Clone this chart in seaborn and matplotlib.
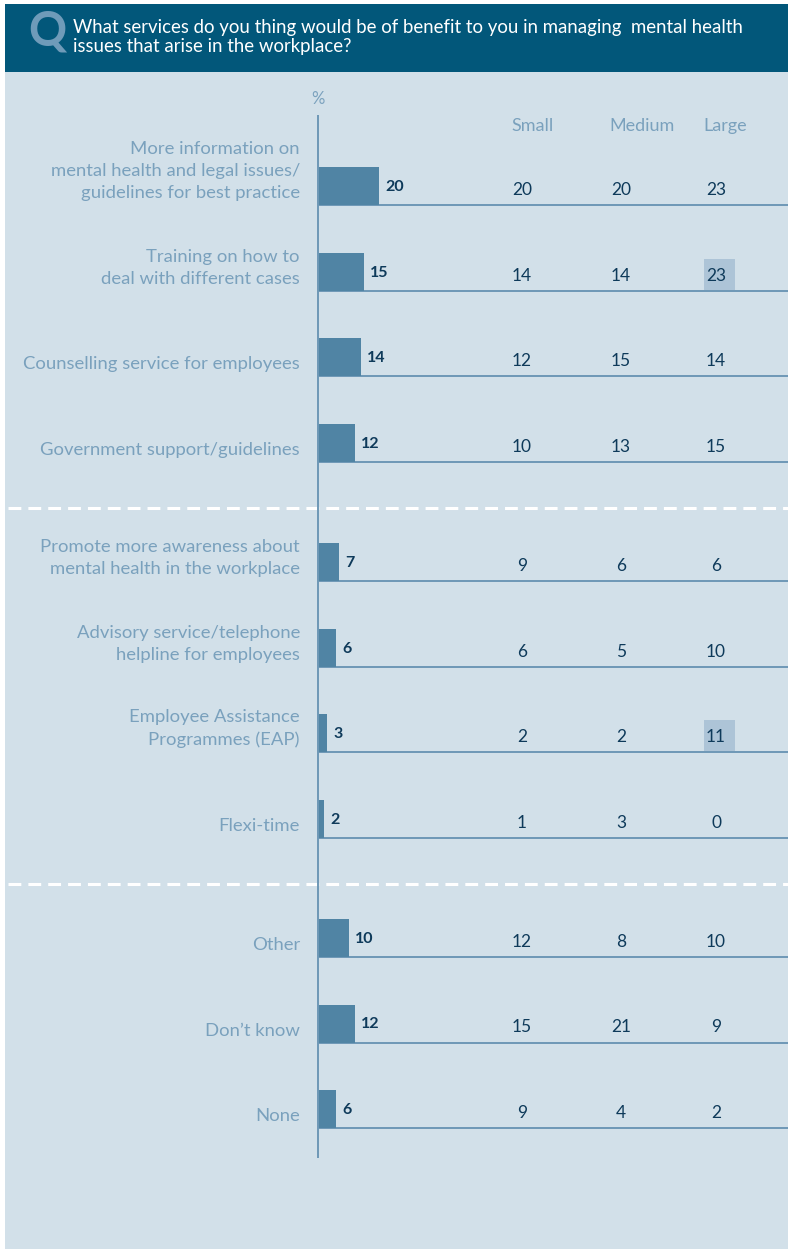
import matplotlib
matplotlib.use("Agg")
import matplotlib.pyplot as plt
import matplotlib.transforms as mtransforms
import matplotlib.patches as mpatches
import seaborn as sns
import pandas as pd

# ---- data -------------------------------------------------------------
services = [
    "More information on\nmental health and legal issues/\nguidelines for best practice",
    "Training on how to\ndeal with different cases",
    "Counselling service for employees",
    "Government support/guidelines",
    "Promote more awareness about\nmental health in the workplace",
    "Advisory service/telephone\nhelpline for employees",
    "Employee Assistance\nProgrammes (EAP)",
    "Flexi-time",
    "Other",
    "Don\u2019t know",
    "None",
]
group = [0, 0, 0, 0, 1, 1, 1, 1, 2, 2, 2]
overall = [20, 15, 14, 12, 7, 6, 3, 2, 10, 12, 6]
small = [20, 14, 12, 10, 9, 6, 2, 1, 12, 15, 9]
medium = [20, 14, 15, 13, 6, 5, 2, 3, 8, 21, 4]
large = [23, 23, 14, 15, 6, 10, 11, 0, 10, 9, 2]
size_labels = ["Small", "Medium", "Large"]
highlighted_large = [1, 6]  # rows whose "Large" value is shaded

title = ("What services do you thing would be of benefit to you in managing  mental health\n"
         "issues that arise in the workplace?")

# ---- styling ----------------------------------------------------------
W, H = 788, 1249
HEADER_BG = "#02577a"
PANEL_BG = "#d2e0e9"
BAR = "#5084a4"
RULE = "#6e98b6"
LABEL = "#7aa1bd"
VALUE = "#0e3a5a"
SHADE = "#adc4d7"
FONT = ["Lato", "DejaVu Sans"]

sns.set_theme(style="white")
plt.rcParams["font.family"] = FONT

PX_PER_UNIT = 3.06
AXIS_X = 318
ROW_STEP = 85.5
GROUP_GAP = 34
FIRST_BASE = 205
BAR_H = 38

baselines = [FIRST_BASE + i * ROW_STEP + g * GROUP_GAP for i, g in enumerate(group)]
centres = [b - BAR_H / 2 for b in baselines]

fig = plt.figure(figsize=(W / 100, H / 100), dpi=100)
fig.patch.set_facecolor("white")
ax = fig.add_axes([0, 0, 1, 1])
ax.set_axis_off()

# horizontal coordinates in figure fraction, vertical in pixels from the top
blend = mtransforms.blended_transform_factory(ax.transAxes, ax.transData)


def fx(px):
    return px / W


# backgrounds
ax.add_patch(mpatches.Rectangle((fx(5), 72), 1, H, transform=blend,
                                color=PANEL_BG, zorder=0, lw=0))
ax.add_patch(mpatches.Rectangle((fx(5), 4), 1, 68, transform=blend,
                                color=HEADER_BG, zorder=0, lw=0))
ax.text(fx(47), 31, "Q", transform=blend, ha="center", va="center",
        fontsize=34, fontweight="bold", color="#6f9bb9", zorder=2)
ax.text(fx(73), 37, title, transform=blend, ha="left", va="center",
        fontsize=13.4, color="white", linespacing=1.2, zorder=2)

# bars
df = pd.DataFrame({"value": overall, "pos": centres})
sns.barplot(data=df, x="value", y="pos", orient="h", native_scale=True,
            width=BAR_H / ROW_STEP, color=BAR, saturation=1, errorbar=None,
            linewidth=0, edgecolor=BAR, ax=ax, zorder=3)
ax.set_axis_off()
ax.set_xlim(-AXIS_X / PX_PER_UNIT, (W - AXIS_X) / PX_PER_UNIT)
ax.set_ylim(H, 0)

# vertical axis and row rules
ax.plot([0, 0], [115, 1158], color=RULE, lw=1.4, zorder=4, solid_capstyle="butt")
for b in baselines:
    ax.plot([0, 200], [b, b], color=RULE, lw=1.4, zorder=2, solid_capstyle="butt")

# dashed separators between groups
for g in (1, 2):
    first = group.index(g)
    y = (baselines[first - 1] + baselines[first] - BAR_H) / 2 + 6
    ax.plot([fx(8), 1], [y, y], transform=blend, color="white", lw=2.2,
            dashes=(4.2, 2.3), zorder=2)

ax.text(0, 99, "%", ha="center", va="center", fontsize=12, color=LABEL)

col_value_x = [522, 621, 716]
col_head_x = [511, 609, 703]
for name, hx in zip(size_labels, col_head_x):
    ax.text(fx(hx), 126, name, transform=blend, ha="left", va="center",
            fontsize=13, color=LABEL)

for i, (lab, b) in enumerate(zip(services, baselines)):
    ax.text(fx(300), b - 4, lab, transform=blend, ha="right", va="bottom",
            fontsize=13.3, color=LABEL, linespacing=1.45)
    ax.text(overall[i] + 6 / PX_PER_UNIT, b - 18, str(overall[i]), ha="left",
            va="center", fontsize=11.5, fontweight="bold", color=VALUE, zorder=5)
    for vals, cx in zip((small, medium, large), col_value_x):
        ax.text(fx(cx), b - 15, str(vals[i]), transform=blend, ha="center",
                va="center", fontsize=12.5, color=VALUE, zorder=5)

for i in highlighted_large:
    b = baselines[i]
    ax.add_patch(mpatches.Rectangle((fx(704), b - 32), fx(31), 31,
                                    transform=blend, color=SHADE, lw=0, zorder=1))

fig.savefig("out.png", dpi=100, facecolor=fig.get_facecolor())
